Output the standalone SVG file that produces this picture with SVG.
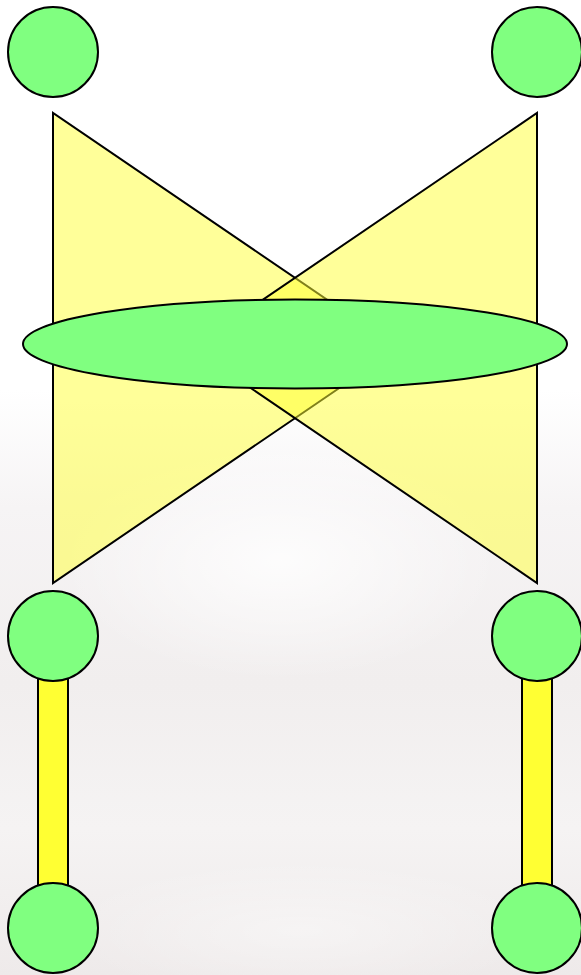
<svg xmlns="http://www.w3.org/2000/svg" width="581" height="975" viewBox="0 0 581 975">
<defs>
<linearGradient id="bg" x1="0" y1="0" x2="0" y2="1">
<stop offset="0" stop-color="#ffffff"/>
<stop offset="0.4" stop-color="#ffffff"/>
<stop offset="0.52" stop-color="#f6f4f5"/>
<stop offset="0.7" stop-color="#f1eeee"/>
<stop offset="0.85" stop-color="#f5f3f3"/>
<stop offset="1" stop-color="#eeeaea"/>
</linearGradient>
<radialGradient id="glow" cx="0.5" cy="0.5" r="0.5">
<stop offset="0" stop-color="#ffffff" stop-opacity="0.8"/>
<stop offset="1" stop-color="#ffffff" stop-opacity="0"/>
</radialGradient>
<style>
.node{fill:#80ff80;stroke:#000;stroke-width:2}
.tri{fill:#ffff33;fill-opacity:0.5;stroke:#000;stroke-width:2;stroke-linejoin:miter}
.bar{fill:#ffff33;stroke:#000;stroke-width:2}
</style>
</defs>
<rect width="581" height="975" fill="url(#bg)"/>
<ellipse cx="280" cy="560" rx="220" ry="120" fill="url(#glow)"/>
<ellipse cx="300" cy="930" rx="240" ry="70" fill="url(#glow)" opacity="0.5"/>
<g id="connectors">
<polygon id="triL" class="tri" points="53,113 53,583 398,348"/>
<polygon id="triR" class="tri" points="537,113 537,583 192,348"/>
<rect id="barL" class="bar" x="38" y="670" width="30" height="220"/>
<rect id="barR" class="bar" x="522" y="670" width="30" height="220"/>
</g>
<g id="n-mid"><ellipse class="node" cx="295" cy="344" rx="272" ry="44.5"/></g>
<g id="n-tl"><circle class="node" cx="53" cy="52" r="45"/></g>
<g id="n-tr"><circle class="node" cx="537" cy="52" r="45"/></g>
<g id="n-ml"><circle class="node" cx="53" cy="636" r="45"/></g>
<g id="n-mr"><circle class="node" cx="537" cy="636" r="45"/></g>
<g id="n-bl"><circle class="node" cx="53" cy="928" r="45"/></g>
<g id="n-br"><circle class="node" cx="537" cy="928" r="45"/></g>
</svg>
